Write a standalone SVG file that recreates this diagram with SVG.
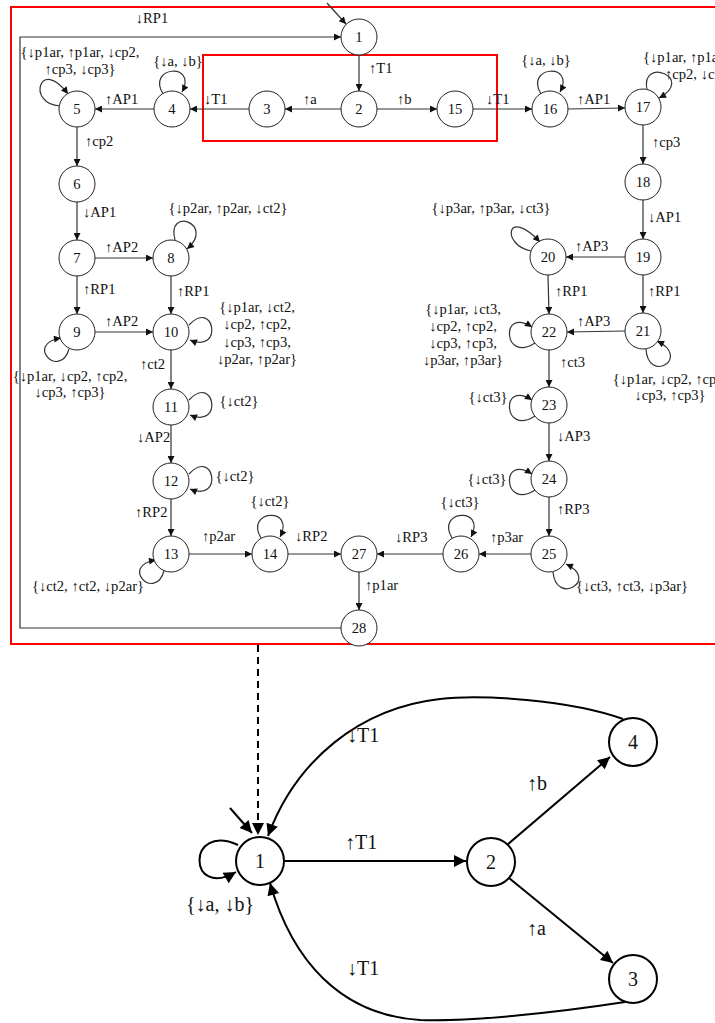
<svg xmlns="http://www.w3.org/2000/svg" width="715" height="1023" viewBox="0 0 715 1023">
<style>
text{font-family:"Liberation Serif","Times New Roman",serif;fill:#111;}
.t{font-size:14.6px;}
.m{text-anchor:middle;}
.n{font-size:14.6px;text-anchor:middle;dominant-baseline:central;}
.N{font-size:20px;text-anchor:middle;dominant-baseline:central;}
.L{font-size:20px;}
.c{fill:#fff;stroke:#222;stroke-width:1;}
.C{fill:#fff;stroke:#000;stroke-width:2;}
.e{fill:none;stroke:#333;stroke-width:1.2;marker-end:url(#a);}
.E{fill:none;stroke:#000;stroke-width:2;marker-end:url(#b);}
.red{fill:none;stroke:#f00;stroke-width:2;}
</style>
<defs>
<marker id="a" viewBox="0 0 10 10" refX="10" refY="5" markerWidth="9" markerHeight="7" orient="auto" markerUnits="userSpaceOnUse"><path d="M0,0 L10,5 L0,10 z" fill="#111"/></marker>
<marker id="b" viewBox="0 0 10 10" refX="10" refY="5" markerWidth="16" markerHeight="12" orient="auto" markerUnits="userSpaceOnUse"><path d="M0,0 L10,5 L0,10 z" fill="#000"/></marker>
</defs>
<rect class="red" x="11" y="7" width="720" height="637"/>
<rect class="red" x="203" y="55" width="294" height="86"/>
<g id="connectors">
<line class="e" x1="327" y1="3" x2="346" y2="24"/>
<path class="e" d="M341,628 H20 V37 H341"/>
<line class="e" x1="359" y1="55" x2="359" y2="91"/>
<line class="e" x1="341" y1="109" x2="285" y2="109"/>
<line class="e" x1="377" y1="109" x2="437" y2="109"/>
<line class="e" x1="249" y1="109" x2="190" y2="109"/>
<line class="e" x1="154" y1="109" x2="95" y2="109"/>
<line class="e" x1="77" y1="127" x2="77" y2="166"/>
<line class="e" x1="77" y1="202" x2="77" y2="240"/>
<line class="e" x1="95" y1="258" x2="153" y2="258"/>
<line class="e" x1="77" y1="276" x2="77" y2="314"/>
<line class="e" x1="171" y1="276" x2="171" y2="314"/>
<line class="e" x1="95" y1="332" x2="153" y2="332"/>
<line class="e" x1="171" y1="350" x2="171" y2="389"/>
<line class="e" x1="171" y1="425" x2="171" y2="463"/>
<line class="e" x1="171" y1="499" x2="171" y2="536"/>
<line class="e" x1="189" y1="554" x2="252" y2="554"/>
<line class="e" x1="288" y1="554" x2="341" y2="554"/>
<line class="e" x1="359" y1="572" x2="359" y2="610"/>
<line class="e" x1="443" y1="554" x2="377" y2="554"/>
<line class="e" x1="531" y1="554" x2="479" y2="554"/>
<line class="e" x1="549" y1="497" x2="549" y2="536"/>
<line class="e" x1="549" y1="423" x2="549" y2="461"/>
<line class="e" x1="549" y1="350" x2="549" y2="387"/>
<line class="e" x1="625" y1="331" x2="567" y2="332"/>
<line class="e" x1="548" y1="275" x2="549" y2="314"/>
<line class="e" x1="625" y1="257" x2="566" y2="257"/>
<line class="e" x1="643" y1="275" x2="643" y2="313"/>
<line class="e" x1="643" y1="200" x2="643" y2="239"/>
<line class="e" x1="643" y1="125" x2="643" y2="164"/>
<line class="e" x1="568" y1="109" x2="625" y2="108"/>
<line class="e" x1="473" y1="109" x2="532" y2="109"/>
<path class="e" d="M163,94 C146,66 198,62 182,92"/>
<path class="e" d="M60,106 C26,104 40,56 68,94"/>
<path class="e" d="M541,94 C524,66 576,62 560,92"/>
<path class="e" d="M647,90 C640,56 696,78 659,98"/>
<path class="e" d="M175,240 C166,206 216,224 187,249"/>
<path class="e" d="M189,325 C214,298 224,354 190,340"/>
<path class="e" d="M189,400 C214,373 224,429 190,415"/>
<path class="e" d="M189,474 C214,447 224,503 190,489"/>
<path class="e" d="M69,349 C60,380 24,344 61,338"/>
<path class="e" d="M164,571 C155,602 119,566 156,560"/>
<path class="e" d="M261,538 C244,510 296,506 280,537"/>
<path class="e" d="M452,538 C435,510 487,506 471,537"/>
<path class="e" d="M531,251 C501,245 506,206 540,242"/>
<path class="e" d="M535,343 C503,364 500,306 532,327"/>
<path class="e" d="M535,416 C503,437 500,379 532,400"/>
<path class="e" d="M535,490 C503,511 500,453 532,474"/>
<path class="e" d="M646,349 C648,384 692,358 657,341"/>
<path class="e" d="M553,572 C556,606 600,580 566,564"/>
<line x1="258" y1="645" x2="258" y2="835" stroke="#000" stroke-width="2" stroke-dasharray="7,5" marker-end="url(#b)"/>
<line class="E" x1="230" y1="808" x2="252" y2="833"/>
<line class="E" x1="285" y1="861" x2="466" y2="861"/>
<line class="E" x1="507" y1="845" x2="610" y2="757"/>
<line class="E" x1="509" y1="878" x2="613" y2="963"/>
<path class="E" d="M623,719 C570,700 480,694 440,699 C360,708 296,760 268,836"/>
<path class="E" d="M625,1002 C560,1012 470,1022 420,1020 C340,1015 292,960 270,883"/>
<path class="E" d="M238,845 C186,822 188,900 236,872"/>
</g>
<g id="labels">
<text class="t m" x="152" y="23">↓RP1</text>
<text class="t" x="369" y="73">↑T1</text>
<text class="t" x="303" y="104">↑a</text>
<text class="t" x="397" y="104">↑b</text>
<text class="t" x="204" y="104">↓T1</text>
<text class="t" x="486" y="104">↓T1</text>
<text class="t" x="577" y="104">↑AP1</text>
<text class="t m" x="546" y="65">{↓a, ↓b}</text>
<text class="t" x="643" y="62">{↓p1ar, ↑p1ar, ↓cp2,</text>
<text class="t" x="665" y="79">↑cp2, ↓cp3}</text>
<text class="t" x="652" y="147">↑cp3</text>
<text class="t" x="648" y="222">↓AP1</text>
<text class="t" x="575" y="251">↑AP3</text>
<text class="t" x="648" y="296">↑RP1</text>
<text class="t m" x="491" y="213">{↓p3ar, ↑p3ar, ↓ct3}</text>
<text class="t" x="555" y="296">↑RP1</text>
<text class="t" x="577" y="326">↑AP3</text>
<text class="t m" x="463" y="314">{↓p1ar, ↓ct3,</text>
<text class="t m" x="463" y="331">↓cp2, ↑cp2,</text>
<text class="t m" x="463" y="348">↓cp3, ↑cp3,</text>
<text class="t m" x="463" y="365">↓p3ar, ↑p3ar}</text>
<text class="t" x="560" y="367">↑ct3</text>
<text class="t m" x="670" y="384">{↓p1ar, ↓cp2, ↑cp2,</text>
<text class="t m" x="670" y="400">↓cp3, ↑cp3}</text>
<text class="t m" x="488" y="402">{↓ct3}</text>
<text class="t" x="557" y="441">↓AP3</text>
<text class="t m" x="487" y="484">{↓ct3}</text>
<text class="t" x="557" y="514">↑RP3</text>
<text class="t m" x="632" y="591">{↓ct3, ↑ct3, ↓p3ar}</text>
<text class="t" x="490" y="542">↑p3ar</text>
<text class="t m" x="460" y="507">{↓ct3}</text>
<text class="t" x="395" y="542">↓RP3</text>
<text class="t" x="365" y="590">↑p1ar</text>
<text class="t" x="105" y="104">↑AP1</text>
<text class="t m" x="178" y="66">{↓a, ↓b}</text>
<text class="t m" x="80" y="57">{↓p1ar, ↑p1ar, ↓cp2,</text>
<text class="t m" x="80" y="74">↑cp3, ↓cp3}</text>
<text class="t" x="85" y="146">↑cp2</text>
<text class="t" x="83" y="217">↓AP1</text>
<text class="t" x="105" y="252">↑AP2</text>
<text class="t" x="83" y="294">↑RP1</text>
<text class="t m" x="228" y="213">{↓p2ar, ↑p2ar, ↓ct2}</text>
<text class="t" x="177" y="296">↑RP1</text>
<text class="t" x="105" y="326">↑AP2</text>
<text class="t m" x="70" y="381">{↓p1ar, ↓cp2, ↑cp2,</text>
<text class="t m" x="70" y="397">↓cp3, ↑cp3}</text>
<text class="t m" x="257" y="312">{↓p1ar, ↓ct2,</text>
<text class="t m" x="257" y="329">↓cp2, ↑cp2,</text>
<text class="t m" x="257" y="347">↓cp3, ↑cp3,</text>
<text class="t m" x="257" y="364">↓p2ar, ↑p2ar}</text>
<text class="t" x="140" y="369">↑ct2</text>
<text class="t m" x="239" y="406">{↓ct2}</text>
<text class="t" x="137" y="442">↓AP2</text>
<text class="t m" x="235" y="481">{↓ct2}</text>
<text class="t" x="135" y="517">↑RP2</text>
<text class="t m" x="88" y="591">{↓ct2, ↑ct2, ↓p2ar}</text>
<text class="t" x="202" y="541">↑p2ar</text>
<text class="t m" x="270" y="506">{↓ct2}</text>
<text class="t" x="295" y="541">↓RP2</text>
<text class="L" x="345" y="849">↑T1</text>
<text class="L" x="527" y="790">↑b</text>
<text class="L" x="527" y="935">↑a</text>
<text class="L" x="347" y="742">↓T1</text>
<text class="L" x="347" y="975">↓T1</text>
<text class="L m" x="220" y="911">{↓a, ↓b}</text>
</g>
<g id="n1"><circle class="c" cx="359" cy="37" r="18"/><text class="n" x="359" y="37">1</text></g>
<g id="n2"><circle class="c" cx="359" cy="109" r="18"/><text class="n" x="359" y="109">2</text></g>
<g id="n3"><circle class="c" cx="267" cy="109" r="18"/><text class="n" x="267" y="109">3</text></g>
<g id="n4"><circle class="c" cx="172" cy="109" r="18"/><text class="n" x="172" y="109">4</text></g>
<g id="n5"><circle class="c" cx="77" cy="109" r="18"/><text class="n" x="77" y="109">5</text></g>
<g id="n6"><circle class="c" cx="77" cy="184" r="18"/><text class="n" x="77" y="184">6</text></g>
<g id="n7"><circle class="c" cx="77" cy="258" r="18"/><text class="n" x="77" y="258">7</text></g>
<g id="n8"><circle class="c" cx="171" cy="258" r="18"/><text class="n" x="171" y="258">8</text></g>
<g id="n9"><circle class="c" cx="77" cy="332" r="18"/><text class="n" x="77" y="332">9</text></g>
<g id="n10"><circle class="c" cx="171" cy="332" r="18"/><text class="n" x="171" y="332">10</text></g>
<g id="n11"><circle class="c" cx="171" cy="407" r="18"/><text class="n" x="171" y="407">11</text></g>
<g id="n12"><circle class="c" cx="171" cy="481" r="18"/><text class="n" x="171" y="481">12</text></g>
<g id="n13"><circle class="c" cx="171" cy="554" r="18"/><text class="n" x="171" y="554">13</text></g>
<g id="n14"><circle class="c" cx="270" cy="554" r="18"/><text class="n" x="270" y="554">14</text></g>
<g id="n15"><circle class="c" cx="455" cy="109" r="18"/><text class="n" x="455" y="109">15</text></g>
<g id="n16"><circle class="c" cx="550" cy="109" r="18"/><text class="n" x="550" y="109">16</text></g>
<g id="n17"><circle class="c" cx="643" cy="107" r="18"/><text class="n" x="643" y="107">17</text></g>
<g id="n18"><circle class="c" cx="643" cy="182" r="18"/><text class="n" x="643" y="182">18</text></g>
<g id="n19"><circle class="c" cx="643" cy="257" r="18"/><text class="n" x="643" y="257">19</text></g>
<g id="n20"><circle class="c" cx="548" cy="257" r="18"/><text class="n" x="548" y="257">20</text></g>
<g id="n21"><circle class="c" cx="643" cy="331" r="18"/><text class="n" x="643" y="331">21</text></g>
<g id="n22"><circle class="c" cx="549" cy="332" r="18"/><text class="n" x="549" y="332">22</text></g>
<g id="n23"><circle class="c" cx="549" cy="405" r="18"/><text class="n" x="549" y="405">23</text></g>
<g id="n24"><circle class="c" cx="549" cy="479" r="18"/><text class="n" x="549" y="479">24</text></g>
<g id="n25"><circle class="c" cx="549" cy="554" r="18"/><text class="n" x="549" y="554">25</text></g>
<g id="n26"><circle class="c" cx="461" cy="554" r="18"/><text class="n" x="461" y="554">26</text></g>
<g id="n27"><circle class="c" cx="359" cy="554" r="18"/><text class="n" x="359" y="554">27</text></g>
<g id="n28"><circle class="c" cx="359" cy="628" r="18"/><text class="n" x="359" y="628">28</text></g>
<g id="m1"><circle class="C" cx="260" cy="861" r="24"/><text class="N" x="260" y="861">1</text></g>
<g id="m2"><circle class="C" cx="491" cy="862" r="24"/><text class="N" x="491" y="862">2</text></g>
<g id="m4"><circle class="C" cx="633" cy="742" r="24"/><text class="N" x="633" y="742">4</text></g>
<g id="m3"><circle class="C" cx="633" cy="979" r="24"/><text class="N" x="633" y="979">3</text></g>
</svg>
